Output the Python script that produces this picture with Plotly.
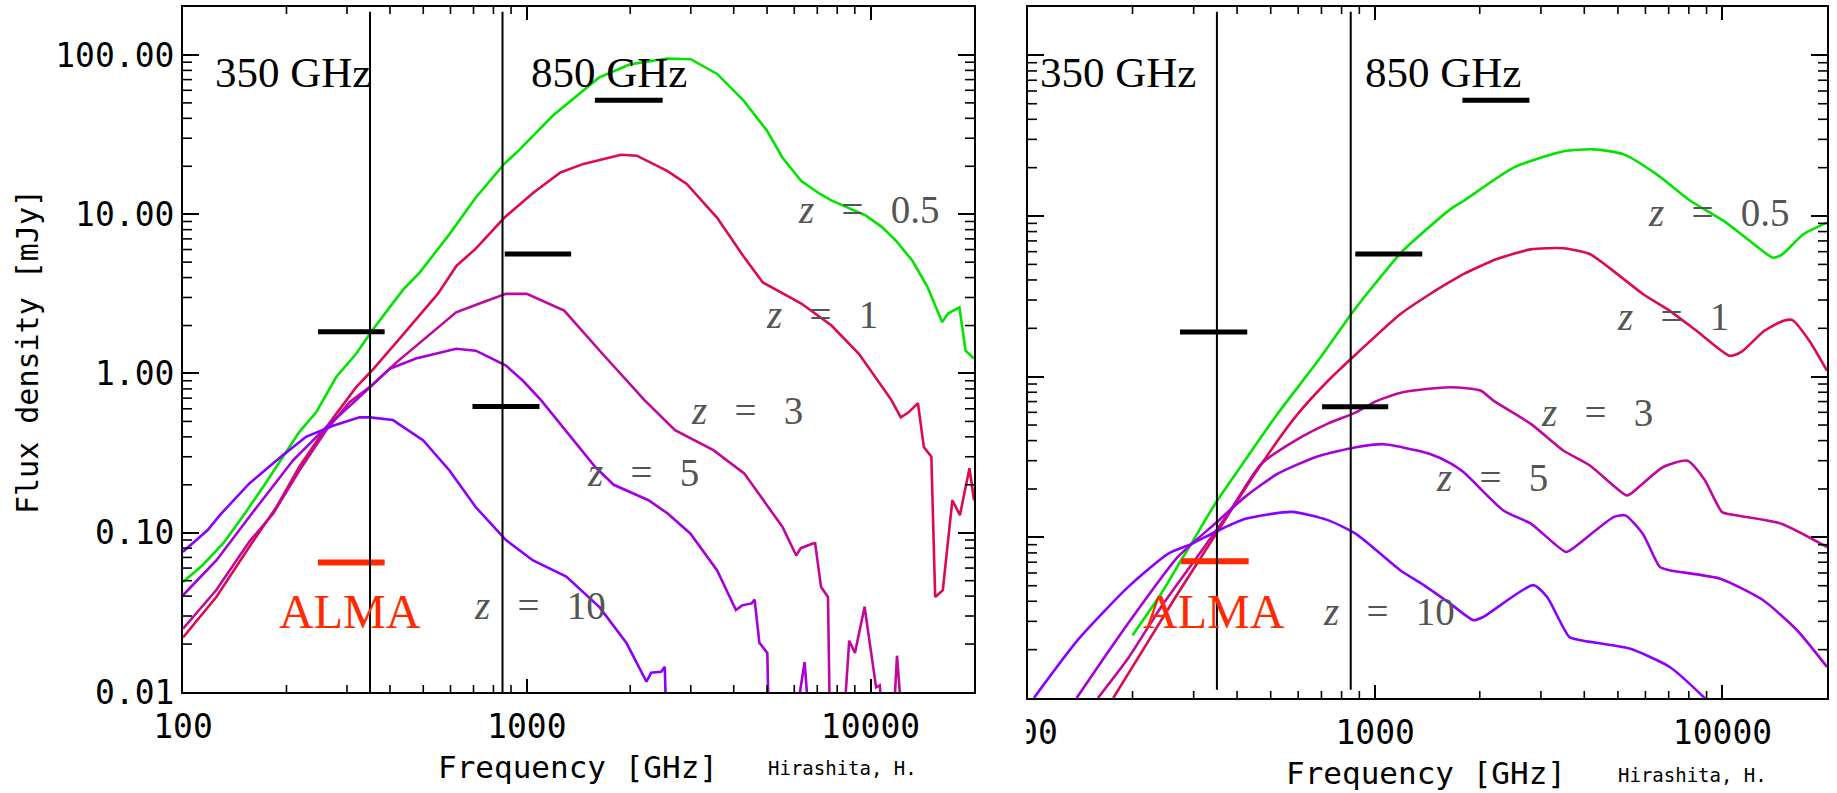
import math
import plotly.graph_objects as go

W, H = 1837, 793

# ---------------- left panel: model SEDs (GHz, mJy) ----------------
left_f_z05 = [100, 114, 131, 149, 171, 195, 218, 244, 279, 319, 355, 399, 437, 488, 546, 596, 710, 860, 945, 1190,
              1620, 1990, 2560, 3000, 3580, 4280, 5000, 5540, 6280, 7130, 7690, 9700, 10800, 11870, 13240, 14640,
              16160, 16800, 18140, 18900, 20000]
left_s_z05 = [0.049, 0.0625, 0.086, 0.126, 0.194, 0.30, 0.43, 0.57, 0.95, 1.33, 1.86, 2.6, 3.36, 4.3, 5.9, 7.5, 12.7,
              20.7, 25.0, 41.5, 72, 87, 95, 94, 76, 51.5, 33.4, 22.7, 16.2, 13.4, 12.2, 9.8, 8.3, 6.8, 5.1, 3.5,
              2.1, 2.38, 2.6, 1.39, 1.24]

left_f_z1 = [100, 125, 156, 187, 218, 261, 319, 354, 426, 551, 625, 712, 860, 1047, 1253, 1462, 1880, 2090, 2560, 2920,
             3580, 4280, 4860, 6290, 7700, 9250, 11300, 11500, 12250, 12900, 13740, 14290, 15030, 15420, 16230,
             17300, 18200, 19400, 20000]
left_s_z1 = [0.022, 0.0395, 0.0817, 0.145, 0.26, 0.46, 0.82, 1.04, 1.65, 3.16, 4.75, 6.1, 9.5, 13.7, 18.3, 20.7, 23.6,
             23.3, 18.7, 15.5, 9.5, 5.4, 3.73, 2.75, 2.0, 1.33, 0.72, 0.68, 0.53, 0.57, 0.65, 0.345, 0.30, 0.0395,
             0.0436, 0.16, 0.129, 0.254, 0.16]

left_f_z3 = [100, 125, 156, 183, 218, 261, 305, 354, 417, 499, 623, 745, 870, 1000, 1285, 1660, 2200, 2700, 3490, 4290,
             5540, 6080, 6270, 6790, 6900, 7180, 7520, 7620, 8340, 8670, 9010, 9610, 10380, 10640, 10900, 11640,
             11940, 12390]
left_s_z3 = [0.025, 0.0437, 0.088, 0.132, 0.246, 0.44, 0.66, 0.84, 1.17, 1.61, 2.42, 2.8, 3.16, 3.16, 2.48, 1.33,
             0.68, 0.44, 0.33, 0.236, 0.109, 0.072, 0.08, 0.0855, 0.086, 0.0457, 0.0395, 0.006, 0.006, 0.021,
             0.0176, 0.0343, 0.0107, 0.011, 0.006, 0.006, 0.0169, 0.006]

left_f_z5 = [100, 125, 156, 209, 261, 319, 399, 476, 623, 711, 870, 975, 1100, 1318, 1578, 1790, 2260, 2570, 2990,
             3580, 4060, 4230, 4510, 4600, 4750, 5010, 5060, 6010, 6430, 6650]
left_s_z5 = [0.0405, 0.067, 0.126, 0.285, 0.46, 0.68, 1.07, 1.24, 1.43, 1.39, 1.12, 0.9, 0.68, 0.42, 0.26, 0.2, 0.16,
             0.132, 0.099, 0.058, 0.0327, 0.035, 0.036, 0.038, 0.0204, 0.0176, 0.006, 0.006, 0.0154, 0.006]

left_f_z10 = [100, 118, 128, 156, 195, 228, 273, 326, 350, 408, 500, 596, 710, 835, 870, 1043, 1303, 1630, 1950, 2230,
              2300, 2460, 2520, 2550]
left_s_z10 = [0.076, 0.104, 0.129, 0.204, 0.306, 0.40, 0.47, 0.53, 0.53, 0.51, 0.38, 0.246, 0.145, 0.099, 0.090,
              0.067, 0.053, 0.034, 0.0203, 0.0116, 0.0132, 0.0134, 0.0144, 0.006]

# ---------------- right panel: model SEDs (GHz, mJy) ----------------
right_f_z05 = [200, 242, 276, 295, 346, 421, 524, 685, 870, 1000, 1200, 1644, 1795, 2503, 3490, 4250, 5200, 6480,
               8100, 10100, 11700, 14000, 14900, 17100, 20000]
right_s_z05 = [0.0246, 0.0447, 0.072, 0.091, 0.162, 0.30, 0.59, 1.26, 2.6, 3.8, 6.07, 11.0, 12.4, 20, 25.3, 26, 24.2,
               18.1, 12.4, 9.3, 7.3, 5.5, 5.8, 7.7, 9.1]

right_f_z1 = [176, 217, 270, 346, 450, 588, 730, 880, 1180, 1439, 1644, 1795, 2240, 2800, 3480, 4150, 4980, 5900,
              7050, 8420, 10500, 11300, 13200, 15000, 15900, 17800, 20000]
right_s_z1 = [0.01, 0.0208, 0.0447, 0.103, 0.249, 0.56, 0.94, 1.38, 2.45, 3.27, 3.9, 4.35, 5.4, 6.2, 6.3, 5.8, 4.35,
              3.27, 2.57, 1.93, 1.35, 1.42, 1.93, 2.23, 2.25, 1.67, 1.09]

right_f_z3 = [159, 194, 242, 302, 377, 470, 588, 730, 880, 1000, 1200, 1644, 2010, 2190, 2800, 3480, 4150, 5300,
              5500, 6750, 7930, 8860, 9960, 10500, 14700, 20000]
right_s_z3 = [0.01, 0.0176, 0.037, 0.072, 0.14, 0.287, 0.40, 0.51, 0.6, 0.7, 0.8, 0.86, 0.82, 0.71, 0.51, 0.347,
              0.28, 0.182, 0.19, 0.274, 0.30, 0.23, 0.144, 0.139, 0.122, 0.087]

right_f_z5 = [138, 174, 217, 270, 346, 421, 524, 685, 880, 1060, 1320, 1439, 1644, 1795, 2340, 2800, 3540, 3700,
              4870, 5250, 5900, 6600, 7050, 9850, 13100, 16400, 20000]
right_s_z5 = [0.01, 0.0208, 0.0406, 0.0755, 0.122, 0.178, 0.249, 0.32, 0.364, 0.38, 0.347, 0.33, 0.29, 0.255, 0.147,
              0.122, 0.081, 0.085, 0.134, 0.137, 0.105, 0.0655, 0.0624, 0.0553, 0.0406, 0.0264, 0.0156]

right_f_z10 = [104, 139, 194, 253, 296, 346, 421, 575, 730, 880, 1180, 1380, 1644, 1920, 2050, 2850, 3125, 3620,
               3900, 5400, 7050, 8800, 9300]
right_s_z10 = [0.01, 0.0229, 0.049, 0.079, 0.091, 0.108, 0.13, 0.144, 0.128, 0.105, 0.0624, 0.0504, 0.0387, 0.0305,
               0.032, 0.0504, 0.0425, 0.024, 0.0229, 0.0203, 0.0156, 0.0102, 0.009]

# ---------------- sensitivity bars (GHz range, mJy) ----------------
left_bar_lo = [247, 863, 695, 1578]
left_bar_hi = [386, 1346, 1089, 2485]
left_bar_s = [1.83, 5.62, 0.62, 52]
left_alma = [247, 386, 0.065]

right_bar_lo = [274, 876, 703, 1782]
right_bar_hi = [428, 1366, 1090, 2780]
right_bar_s = [1.9, 5.8, 0.65, 52.5]
right_alma = [276, 432, 0.071]

band_freqs = [350, 850]
band_names = ["350 GHz", "850 GHz"]
z_values = ["0.5", "1", "3", "5", "10"]

x_ticks = [100, 1000, 10000]
x_ticktext = ["100", "1000", "10000"]
x_minor = [200, 300, 400, 500, 600, 700, 800, 900, 2000, 3000, 4000, 5000, 6000, 7000, 8000, 9000]
y_ticks = [0.01, 0.1, 1, 10, 100]
y_ticktext = ["0.01", "0.10", "1.00", "10.00", "100.00"]
y_minor = [round(m * d, 4) for d in (0.01, 0.1, 1, 10) for m in range(2, 10)]

COLORS = ["#00e400", "#dc0a50", "#c0089c", "#a400dc", "#8a00ff"]
ALMA_RED = "#ff2a00"
MONO = "DejaVu Sans Mono"
SERIF = "Liberation Serif"

# panel boxes in page pixels: left, right, top, bottom
LEFT_BOX = (183, 974, 7, 692)
RIGHT_BOX = (1028, 1827, 7, 698)

fig = go.Figure()

left_curves = [(left_f_z05, left_s_z05), (left_f_z1, left_s_z1), (left_f_z3, left_s_z3),
               (left_f_z5, left_s_z5), (left_f_z10, left_s_z10)]
right_curves = [(right_f_z05, right_s_z05), (right_f_z1, right_s_z1), (right_f_z3, right_s_z3),
                (right_f_z5, right_s_z5), (right_f_z10, right_s_z10)]

for (f, s), c in zip(left_curves, COLORS):
    fig.add_trace(go.Scatter(x=f, y=s, mode="lines", line=dict(color=c, width=2.6),
                             xaxis="x", yaxis="y", hoverinfo="skip"))
for (f, s), c in zip(right_curves, COLORS):
    fig.add_trace(go.Scatter(x=f, y=s, mode="lines", line=dict(color=c, width=2.6, shape="spline", smoothing=0.6),
                             xaxis="x2", yaxis="y2", hoverinfo="skip"))

for lo, hi, s, alma, xa, ya in ((left_bar_lo, left_bar_hi, left_bar_s, left_alma, "x", "y"),
                                (right_bar_lo, right_bar_hi, right_bar_s, right_alma, "x2", "y2")):
    for a, b, v in zip(lo, hi, s):
        fig.add_trace(go.Scatter(x=[a, b], y=[v, v], mode="lines", line=dict(color="black", width=5),
                                 xaxis=xa, yaxis=ya, hoverinfo="skip"))
    fig.add_trace(go.Scatter(x=alma[:2], y=[alma[2], alma[2]], mode="lines",
                             line=dict(color=ALMA_RED, width=6), xaxis=xa, yaxis=ya, hoverinfo="skip"))

# vertical band markers
for f in band_freqs:
    fig.add_shape(type="line", xref="x", yref="y domain", x0=f, x1=f, y0=0, y1=0.993,
                  line=dict(color="black", width=2))
    fig.add_shape(type="line", xref="x2", yref="y2 domain", x0=f, x1=f, y0=0.012, y1=0.993,
                  line=dict(color="black", width=2))

# minor ticks on all four sides of each panel
for (xl_, xr_, yt_, yb_), xa, ya in ((LEFT_BOX, "x", "y"), (RIGHT_BOX, "x2", "y2")):
    fx = 9 / (xr_ - xl_)
    fy = 7 / (yb_ - yt_)
    tick = dict(color="black", width=1.6)
    for v in x_minor:
        fig.add_shape(type="line", xref=xa, yref=ya + " domain", x0=v, x1=v, y0=0, y1=fy, line=tick)
        fig.add_shape(type="line", xref=xa, yref=ya + " domain", x0=v, x1=v, y0=1 - fy, y1=1, line=tick)
    for v in y_minor:
        fig.add_shape(type="line", xref=xa + " domain", yref=ya, x0=0, x1=fx, y0=v, y1=v, line=tick)
        fig.add_shape(type="line", xref=xa + " domain", yref=ya, x0=1 - fx, x1=1, y0=v, y1=v, line=tick)


def px(x):
    return x / W


def py(y):
    return 1 - y / H


def axis_common(domain, ticklen):
    return dict(domain=domain, type="log", showline=True, linecolor="black", linewidth=2,
                mirror="allticks", ticks="inside", ticklen=ticklen, tickwidth=2, tickcolor="black",
                showgrid=False, zeroline=False, automargin=False)


TICKFONT = dict(family=MONO, size=33, color="black")

xl = axis_common([px(LEFT_BOX[0]), px(LEFT_BOX[1])], 13)
xl.update(range=[2, math.log10(20000)], tickvals=x_ticks, ticktext=x_ticktext,
          tickfont=TICKFONT, ticklabelstandoff=4, anchor="y")
yl = axis_common([py(LEFT_BOX[3]), py(LEFT_BOX[2])], 16)
yl.update(range=[-2, math.log10(200)], tickvals=y_ticks, ticktext=y_ticktext,
          tickfont=TICKFONT, ticklabelstandoff=0, anchor="x")
xr = axis_common([px(RIGHT_BOX[0]), px(RIGHT_BOX[1])], 13)
xr.update(range=[2, math.log10(20000)], tickvals=x_ticks, ticktext=x_ticktext,
          tickfont=TICKFONT, ticklabelstandoff=4, anchor="y2")
yr = axis_common([py(RIGHT_BOX[3]), py(RIGHT_BOX[2])], 16)
yr.update(range=[-2, math.log10(200)], tickvals=y_ticks, showticklabels=False, anchor="x2")

fig.update_layout(width=W, height=H, margin=dict(l=0, r=0, t=0, b=0, pad=0, autoexpand=False),
                  showlegend=False, paper_bgcolor="white", plot_bgcolor="white",
                  xaxis=xl, yaxis=yl, xaxis2=xr, yaxis2=yr)

# the right panel's first tick label sits partly under the left figure's edge
fig.add_shape(type="rect", xref="paper", yref="paper", x0=px(978), x1=px(1026.5), y0=0, y1=py(702),
              fillcolor="white", line=dict(width=0), layer="above")

ann = []


def text(x, y, s, size, family, color="black", angle=0):
    ann.append(dict(x=px(x), y=py(y), xref="paper", yref="paper", text=s, showarrow=False,
                    xanchor="center", yanchor="middle", textangle=angle,
                    font=dict(family=family, size=size, color=color)))


sp = "\u00a0\u00a0\u2009"
left_z_pos = [(869, 210), (822, 314), (747, 410), (643, 473), (540, 605)]
right_z_pos = [(1719, 212), (1673, 317), (1597, 412), (1492, 477), (1389, 611)]
for zv, (x, y) in zip(z_values, left_z_pos):
    text(x, y, "<i>z</i>" + sp + "=" + sp + zv, 39, SERIF, "#555555")
for zv, (x, y) in zip(z_values, right_z_pos):
    text(x, y, "<i>z</i>" + sp + "=" + sp + zv, 39, SERIF, "#555555")

for name, x in zip(band_names, (292.5, 608.5)):
    text(x, 72, name, 43, SERIF)
for name, x in zip(band_names, (1117.5, 1443)):
    text(x, 72, name, 43, SERIF)

text(350, 611, "ALMA", 48, SERIF, ALMA_RED)
text(1214, 611, "ALMA", 48, SERIF, ALMA_RED)

text(27, 352, "Flux density [mJy]", 30, MONO, angle=-90)
text(578, 767, "Frequency [GHz]", 31, MONO)
text(1426, 773, "Frequency [GHz]", 31, MONO)
text(842, 768, "Hirashita, H.", 19, MONO)
text(1692, 775, "Hirashita, H.", 19, MONO)

fig.update_layout(annotations=ann)
fig.write_html("out.html")
